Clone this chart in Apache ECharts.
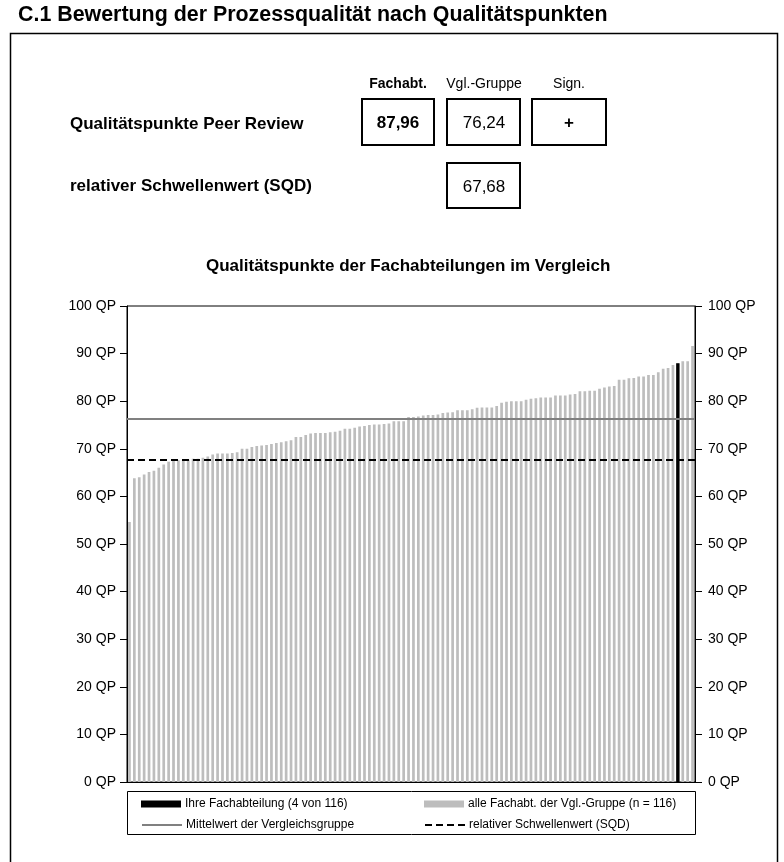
<!DOCTYPE html>
<html>
<head>
<meta charset="utf-8">
<title>C.1 Bewertung der Prozessqualität</title>
<script src="https://cdn.jsdelivr.net/npm/echarts@6/dist/echarts.min.js"></script>
<style>
  html, body { margin: 0; padding: 0; background: #fff; }
  #main { width: 784px; height: 862px; }
</style>
</head>
<body>
<div id="main"></div>
<script>
// Qualitätspunkte aller Fachabteilungen, aufsteigend sortiert (Rang 116 ... 1)
var qpValues = [
  54.6, 63.8, 64.0, 64.6, 65.1, 65.4, 66.0, 66.7, 67.3, 67.5,
  67.6, 67.6, 67.7, 67.9, 67.9, 68.1, 68.4, 68.8, 69.0, 69.0,
  69.0, 69.1, 69.3, 70.0, 70.0, 70.4, 70.6, 70.7, 70.8, 71.0,
  71.2, 71.4, 71.6, 71.8, 72.5, 72.5, 72.9, 73.2, 73.3, 73.3,
  73.3, 73.5, 73.6, 73.8, 74.2, 74.2, 74.4, 74.7, 74.8, 75.0,
  75.1, 75.1, 75.2, 75.3, 75.8, 75.8, 75.8, 76.7, 76.7, 76.8,
  77.0, 77.1, 77.1, 77.2, 77.5, 77.6, 77.7, 78.1, 78.1, 78.1,
  78.3, 78.6, 78.7, 78.7, 78.7, 79.0, 79.7, 79.9, 80.0, 80.0,
  80.0, 80.3, 80.5, 80.6, 80.8, 80.8, 80.8, 81.2, 81.2, 81.2,
  81.4, 81.5, 82.1, 82.1, 82.2, 82.2, 82.6, 82.9, 83.1, 83.2,
  84.5, 84.5, 84.8, 84.9, 85.2, 85.2, 85.5, 85.5, 86.1, 86.8,
  87.0, 87.6, 87.96, 88.4, 88.4, 91.6
];
var ownRank = 4;          // Ihre Fachabteilung: Rang 4 von 116
var ownValue = 87.96;
var groupMean = 76.24;
var sqdThreshold = 67.68;
var signText = '+';
var tableHeaders = ['Fachabt.', 'Vgl.-Gruppe', 'Sign.'];
var rowLabels = ['Qualitätspunkte Peer Review', 'relativer Schwellenwert (SQD)'];

var n = qpValues.length;
var ranks = qpValues.map(function (v, i) { return String(n - i); });
var ownIndex = n - ownRank;
var ownData = qpValues.map(function (v, i) { return i === ownIndex ? v : '-'; });

var fmt = function (v) { return v.toFixed(2).replace('.', ','); };

var nameOwn = 'Ihre Fachabteilung (' + ownRank + ' von ' + n + ')';
var nameAll = 'alle Fachabt. der Vgl.-Gruppe (n = ' + n + ')';
var nameMean = 'Mittelwert der Vergleichsgruppe';
var nameSqd = 'relativer Schwellenwert (SQD)';

var FONT = '"Liberation Sans", Arial, sans-serif';

var chart = echarts.init(document.getElementById('main'));

var yAxisBase = {
  type: 'value',
  min: 0,
  max: 100,
  interval: 10,
  axisLine: { show: true, lineStyle: { color: '#000', width: 1 } },
  axisTick: { show: true, inside: false, length: 7, lineStyle: { color: '#000' } },
  splitLine: { show: false },
  axisLabel: { formatter: '{value} QP', color: '#000', fontSize: 14, fontFamily: FONT }
};

var legendBase = {
  padding: 0,
  itemGap: 0,
  itemWidth: 40,
  selectedMode: false,
  textStyle: { color: '#000', fontSize: 12, fontFamily: FONT, padding: [0, 0, 0, -1] }
};

// bei den Linien nur die Linie im Legendensymbol, kein Punkt
var lineLegend = { itemHeight: 14, itemStyle: { opacity: 0, color: 'transparent', borderWidth: 0 } };

var option = {
  animation: false,
  backgroundColor: '#fff',
  textStyle: { fontFamily: FONT },
  title: {
    text: 'Qualitätspunkte der Fachabteilungen im Vergleich',
    left: 206,
    top: 258,
    padding: 0,
    textStyle: { color: '#000', fontSize: 17, fontWeight: 'bold', fontFamily: FONT }
  },
  grid: {
    left: 127, right: 89, top: 306, bottom: 80,
    show: true, borderColor: '#000', borderWidth: 1, backgroundColor: 'transparent'
  },
  xAxis: [
    {
      type: 'category', data: ranks, boundaryGap: true,
      axisLine: { show: true, lineStyle: { color: '#000' } },
      axisTick: { show: false }, axisLabel: { show: false }, splitLine: { show: false }
    },
    {
      type: 'category', data: ranks, boundaryGap: true, show: false
    }
  ],
  yAxis: [
    Object.assign({}, yAxisBase, { position: 'left',
      axisLabel: Object.assign({}, yAxisBase.axisLabel, { margin: 11 }) }),
    Object.assign({}, yAxisBase, { position: 'right',
      axisLabel: Object.assign({}, yAxisBase.axisLabel, { margin: 13 }) })
  ],
  legend: [
    Object.assign({}, legendBase, { left: 141, top: 798, itemHeight: 7,
      data: [{ name: nameOwn, icon: 'rect' }] }),
    Object.assign({}, legendBase, { left: 424, top: 798, itemHeight: 7,
      data: [{ name: nameAll, icon: 'rect' }] }),
    Object.assign({}, legendBase, lineLegend, { left: 141, top: 819,
      data: [{ name: nameMean }] }),
    Object.assign({}, legendBase, lineLegend, { left: 424, top: 819,
      data: [{ name: nameSqd }] })
  ],
  series: [
    {
      name: nameAll,
      type: 'bar',
      data: qpValues,
      barWidth: 2.7,
      itemStyle: { color: '#bdbdbd' },
      z: 2
    },
    {
      name: nameOwn,
      type: 'bar',
      xAxisIndex: 1,
      data: ownData,
      barWidth: 3.4,
      itemStyle: { color: '#000' },
      z: 3
    },
    {
      name: nameMean,
      type: 'line',
      data: [],
      symbol: 'none',
      lineStyle: { color: '#808080', width: 2 },
      itemStyle: { color: '#808080' },
      markLine: {
        silent: true, symbol: 'none', label: { show: false },
        lineStyle: { color: '#808080', width: 2, type: 'solid' },
        data: [{ yAxis: groupMean }]
      },
      z: 4
    },
    {
      name: nameSqd,
      type: 'line',
      data: [],
      symbol: 'none',
      lineStyle: { color: '#000', width: 2, type: [7, 4] },
      itemStyle: { color: '#000' },
      markLine: {
        silent: true, symbol: 'none', label: { show: false },
        lineStyle: { color: '#000', width: 2, type: [7, 4] },
        data: [{ yAxis: sqdThreshold }]
      },
      z: 4
    }
  ],
  graphic: [
    // Überschrift
    { type: 'text', left: 18, top: 5,
      style: { text: 'C.1 Bewertung der Prozessqualität nach Qualitätspunkten',
        fill: '#000', font: 'bold 21.4px ' + FONT } },
    // Rahmen
    { type: 'polyline', silent: true,
      shape: { points: [[10.5, 880], [10.5, 33.5], [777.5, 33.5], [777.5, 880]] },
      style: { stroke: '#000', lineWidth: 1.5, fill: null } },
    // Tabellenkopf
    { type: 'text', x: 398, y: 84,
      style: { text: tableHeaders[0], fill: '#000', font: 'bold 14px ' + FONT, align: 'center', verticalAlign: 'middle' } },
    { type: 'text', x: 484, y: 84,
      style: { text: tableHeaders[1], fill: '#000', font: '14px ' + FONT, align: 'center', verticalAlign: 'middle' } },
    { type: 'text', x: 569, y: 84,
      style: { text: tableHeaders[2], fill: '#000', font: '14px ' + FONT, align: 'center', verticalAlign: 'middle' } },
    // Zeilenbeschriftungen
    { type: 'text', x: 70, y: 124,
      style: { text: rowLabels[0], fill: '#000', font: 'bold 17px ' + FONT, align: 'left', verticalAlign: 'middle' } },
    { type: 'text', x: 70, y: 186,
      style: { text: rowLabels[1], fill: '#000', font: 'bold 17px ' + FONT, align: 'left', verticalAlign: 'middle' } },
    // Kästchen
    { type: 'rect', shape: { x: 362, y: 99, width: 72, height: 46 },
      style: { stroke: '#000', lineWidth: 2, fill: '#fff' } },
    { type: 'rect', shape: { x: 447, y: 99, width: 73, height: 46 },
      style: { stroke: '#000', lineWidth: 2, fill: '#fff' } },
    { type: 'rect', shape: { x: 532, y: 99, width: 74, height: 46 },
      style: { stroke: '#000', lineWidth: 2, fill: '#fff' } },
    { type: 'rect', shape: { x: 447, y: 163, width: 73, height: 45 },
      style: { stroke: '#000', lineWidth: 2, fill: '#fff' } },
    // Werte
    { type: 'text', x: 398, y: 123, z: 10,
      style: { text: fmt(ownValue), fill: '#000', font: 'bold 17px ' + FONT, align: 'center', verticalAlign: 'middle' } },
    { type: 'text', x: 484, y: 123, z: 10,
      style: { text: fmt(groupMean), fill: '#000', font: '17px ' + FONT, align: 'center', verticalAlign: 'middle' } },
    { type: 'text', x: 569, y: 123, z: 10,
      style: { text: signText, fill: '#000', font: 'bold 17px ' + FONT, align: 'center', verticalAlign: 'middle' } },
    { type: 'text', x: 484, y: 187, z: 10,
      style: { text: fmt(sqdThreshold), fill: '#000', font: '17px ' + FONT, align: 'center', verticalAlign: 'middle' } },
    // Legendenrahmen
    { type: 'rect', silent: true, shape: { x: 127.5, y: 791.5, width: 568, height: 43 },
      style: { stroke: '#000', lineWidth: 1, fill: null } }
  ]
};

chart.setOption(option);
</script>
</body>
</html>
